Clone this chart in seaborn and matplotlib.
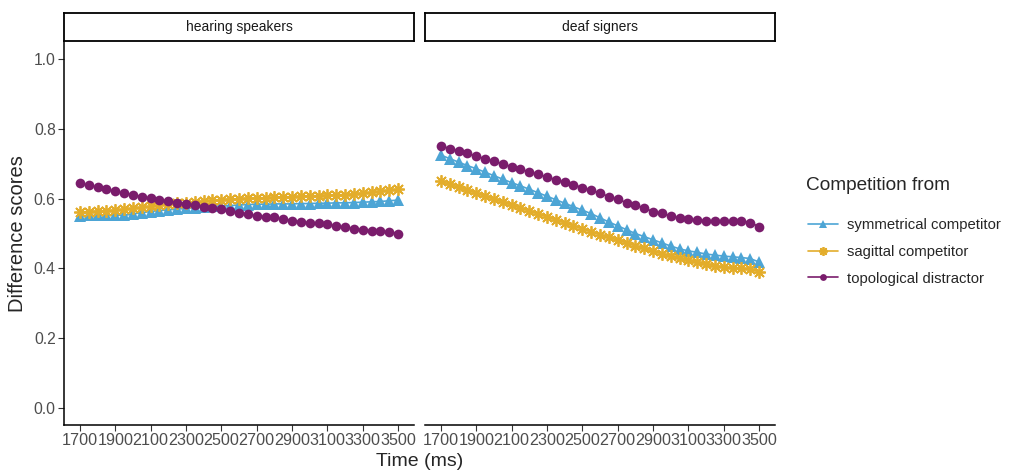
import numpy as np
import pandas as pd
import matplotlib
matplotlib.use('Agg')
import matplotlib.pyplot as plt
import seaborn as sns

# time points (ms), one every 50 ms
time_ms = list(range(1700, 3550, 50))
tick_ms = list(range(1700, 3700, 200))

# hearing speakers
hear_sym = [0.551, 0.552, 0.552, 0.553, 0.553, 0.552, 0.556, 0.560, 0.563, 0.566,
            0.568, 0.570, 0.572, 0.574, 0.576, 0.578, 0.579, 0.580, 0.582, 0.583,
            0.584, 0.584, 0.585, 0.585, 0.585, 0.586, 0.586, 0.587, 0.587, 0.588,
            0.588, 0.589, 0.590, 0.591, 0.592, 0.594, 0.596]
hear_sag = [0.562, 0.563, 0.564, 0.565, 0.567, 0.569, 0.572, 0.575, 0.578, 0.581,
            0.584, 0.587, 0.589, 0.591, 0.593, 0.595, 0.597, 0.599, 0.600, 0.601,
            0.602, 0.603, 0.604, 0.605, 0.606, 0.607, 0.608, 0.609, 0.610, 0.611,
            0.612, 0.614, 0.616, 0.618, 0.621, 0.624, 0.627]
hear_top = [0.644, 0.639, 0.633, 0.627, 0.621, 0.616, 0.611, 0.606, 0.601, 0.597,
            0.593, 0.589, 0.585, 0.581, 0.577, 0.573, 0.569, 0.564, 0.560, 0.555,
            0.551, 0.548, 0.546, 0.541, 0.537, 0.534, 0.531, 0.529, 0.526, 0.522,
            0.518, 0.514, 0.510, 0.508, 0.507, 0.505, 0.500]

# deaf signers
deaf_sym = [0.725, 0.715, 0.705, 0.695, 0.686, 0.676, 0.666, 0.656, 0.646, 0.637,
            0.627, 0.617, 0.607, 0.597, 0.587, 0.577, 0.567, 0.557, 0.545, 0.533,
            0.522, 0.511, 0.500, 0.491, 0.482, 0.473, 0.464, 0.456, 0.450, 0.446,
            0.441, 0.438, 0.435, 0.433, 0.431, 0.428, 0.418]
deaf_sag = [0.650, 0.641, 0.633, 0.624, 0.616, 0.607, 0.599, 0.590, 0.582, 0.573,
            0.565, 0.556, 0.548, 0.539, 0.531, 0.522, 0.514, 0.505, 0.497, 0.489,
            0.481, 0.473, 0.465, 0.457, 0.449, 0.442, 0.436, 0.430, 0.424, 0.418,
            0.413, 0.408, 0.404, 0.402, 0.401, 0.398, 0.390]
deaf_top = [0.752, 0.744, 0.737, 0.730, 0.722, 0.715, 0.707, 0.700, 0.692, 0.685,
            0.677, 0.670, 0.662, 0.655, 0.647, 0.640, 0.632, 0.624, 0.616, 0.606,
            0.598, 0.589, 0.582, 0.573, 0.563, 0.558, 0.550, 0.545, 0.541, 0.539,
            0.537, 0.535, 0.535, 0.535, 0.537, 0.531, 0.520]

groups = ['hearing speakers', 'deaf signers']
competitors = ['symmetrical competitor', 'sagittal competitor', 'topological distractor']
series = {
    'hearing speakers': [hear_sym, hear_sag, hear_top],
    'deaf signers': [deaf_sym, deaf_sag, deaf_top],
}
colors = ['#4DA5D5', '#E3AD2B', '#7A1C6C']
markers = ['^', (8, 2, 0), 'o']
msizes = [8, 9, 7]

sns.set_style('white')
plt.rcParams['font.family'] = ['Liberation Sans', 'DejaVu Sans']

fig = plt.figure(figsize=(10.14, 4.72), dpi=100)
W, H = 1014, 472
panels = [(64, 414), (425, 775)]
top, bottom = 42, 425
grey = '#4D4D4D'

axes = []
for gi, g in enumerate(groups):
    x0, x1 = panels[gi]
    ax = fig.add_axes([x0 / W, 1 - bottom / H, (x1 - x0) / W, (bottom - top) / H])
    for ci, c in enumerate(competitors):
        sns.lineplot(x=time_ms, y=series[g][ci], ax=ax, color=colors[ci],
                     marker=markers[ci], markersize=msizes[ci], linewidth=1.2,
                     markeredgewidth=1.3 if ci == 1 else 0,
                     markeredgecolor=colors[ci], label=c)
    ax.set_xlim(1610, 3590)
    ax.set_ylim(-0.05, 1.05)
    ax.set_xticks(tick_ms)
    ax.set_xticklabels([str(t) for t in tick_ms], fontsize=11.6, color=grey)
    ax.set_xlabel('')
    ax.set_ylabel('')
    ax.tick_params(axis='x', length=4, width=0.8, color='#333333', pad=2, bottom=True)
    for s in ['top', 'right']:
        ax.spines[s].set_visible(False)
    ax.spines['bottom'].set_color('black')
    ax.spines['bottom'].set_linewidth(1.1)
    if gi == 0:
        ax.set_yticks([0, 0.2, 0.4, 0.6, 0.8, 1.0])
        ax.set_yticklabels(['0.0', '0.2', '0.4', '0.6', '0.8', '1.0'], fontsize=11.3, color=grey)
        ax.tick_params(axis='y', length=4, width=0.8, color='#333333', pad=2, left=True)
        ax.spines['left'].set_color('black')
        ax.spines['left'].set_linewidth(1.1)
        ax.set_ylabel('Difference scores', fontsize=14.5, labelpad=5)
    else:
        ax.set_yticks([])
        ax.spines['left'].set_visible(False)
    ax.get_legend().remove()
    axes.append(ax)

    # facet strip
    sx = fig.add_axes([x0 / W, 1 - (top - 1) / H, (x1 - x0) / W, 28 / H])
    sx.set_xticks([])
    sx.set_yticks([])
    sx.set_facecolor('white')
    for s in sx.spines.values():
        s.set_visible(True)
        s.set_color('black')
        s.set_linewidth(1.3)
    sx.text(0.5, 0.5, g, ha='center', va='center', fontsize=10, color='#1A1A1A',
            transform=sx.transAxes)

fig.text(420 / W, 1 - 461 / H, 'Time (ms)', ha='center', va='center', fontsize=14)

# legend: title drawn on its own, entries below
fig.text(806 / W, 1 - 185 / H, 'Competition from', ha='left', va='center', fontsize=13.7)
handles, labels = axes[0].get_legend_handles_labels()
leg = fig.legend(handles, labels, loc='upper left',
                 bbox_to_anchor=(795 / W, 1 - 205 / H), frameon=False,
                 fontsize=10.7, handlelength=2.0, markerscale=0.7,
                 labelspacing=0.85, handletextpad=0.6)

fig.savefig('out.png', dpi=100)
